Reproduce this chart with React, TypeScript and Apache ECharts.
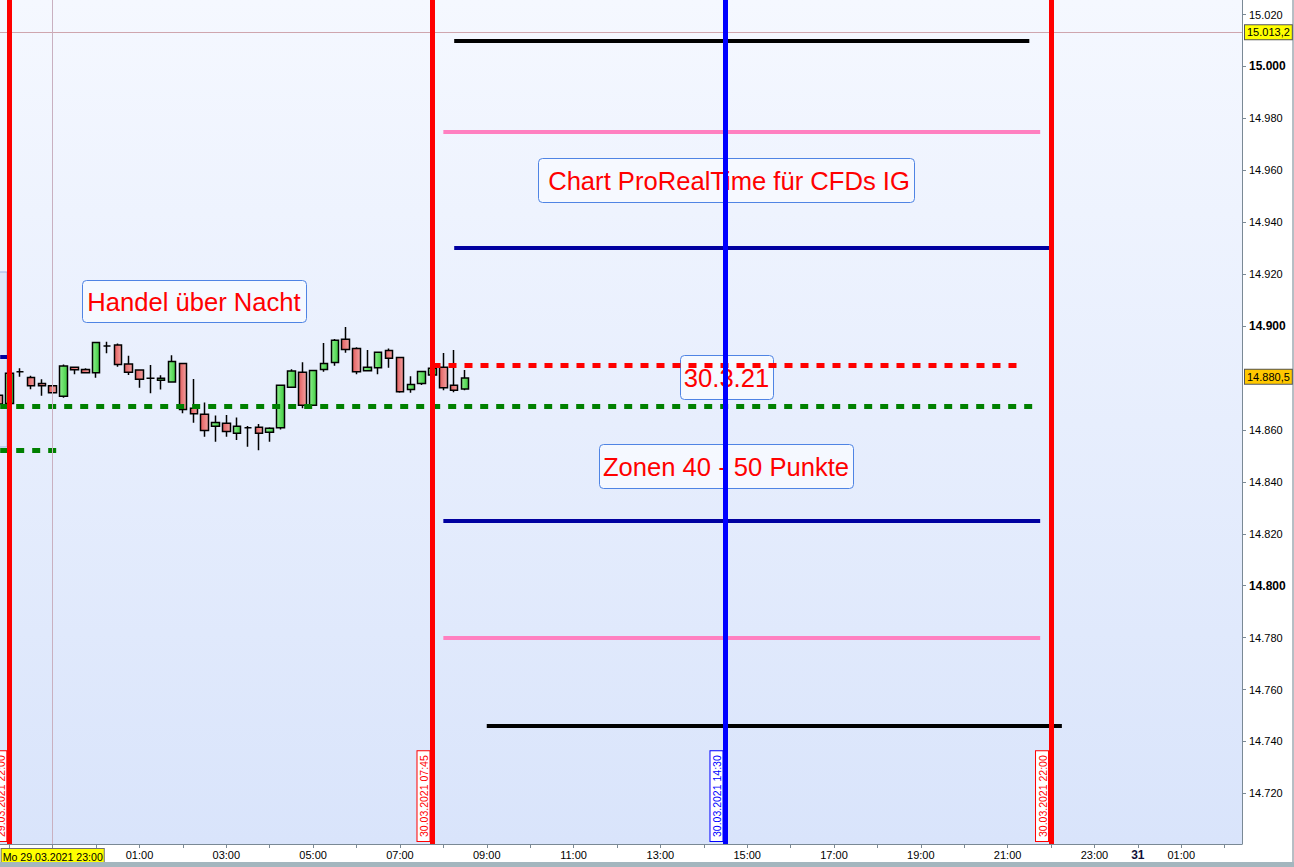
import React, { useEffect, useRef } from 'react';
import * as echarts from 'echarts';

// ---- data ----
const slotTimes = ['21:45', '22:00', '22:15', '22:30', '22:45', '23:00', '23:15', '23:30', '23:45', '00:00', '00:15', '00:30', '00:45', '01:00', '01:15', '01:30', '01:45', '02:00', '02:15', '02:30', '02:45', '03:00', '03:15', '03:30', '03:45', '04:00', '04:15', '04:30', '04:45', '05:00', '05:15', '05:30', '05:45', '06:00', '06:15', '06:30', '06:45', '07:00', '07:15', '07:30', '07:45', '08:00', '08:15', '08:30'];
const opens = [14873.4, 14870.2, 14882.4, 14880.2, 14877.9, 14877.0, 14873.0, 14884.1, 14883.3, 14882.0, 14892.3, 14892.7, 14885.4, 14883.1, 14879.9, 14879.1, 14878.5, 14885.6, 14868.3, 14866.0, 14861.4, 14862.6, 14858.7, 14860.8, 14861.0, 14859.1, 14860.8, 14876.4, 14882.2, 14869.5, 14883.3, 14886.0, 14894.9, 14891.4, 14882.8, 14883.9, 14890.6, 14887.9, 14875.6, 14877.9, 14881.2, 14884.1, 14877.2, 14875.8];
const closes = [14870.0, 14881.8, 14882.4, 14877.0, 14877.0, 14874.3, 14884.6, 14883.2, 14882.0, 14893.7, 14892.3, 14885.2, 14882.2, 14879.5, 14879.9, 14879.9, 14886.4, 14867.9, 14866.2, 14859.8, 14862.9, 14859.4, 14861.4, 14860.8, 14858.7, 14860.6, 14877.2, 14882.7, 14869.5, 14882.9, 14885.6, 14894.5, 14891.0, 14882.4, 14884.1, 14889.9, 14887.6, 14874.7, 14877.5, 14882.5, 14883.8, 14876.2, 14875.3, 14880.0];
const lows = [14869.0, 14870.0, 14880.5, 14875.7, 14873.2, 14874.0, 14872.4, 14881.4, 14881.7, 14880.1, 14889.5, 14884.3, 14881.2, 14876.2, 14874.1, 14875.6, 14878.2, 14866.4, 14862.8, 14857.4, 14855.4, 14857.4, 14856.1, 14853.5, 14852.2, 14855.4, 14860.2, 14876.2, 14868.3, 14869.2, 14882.4, 14884.7, 14889.7, 14881.4, 14882.8, 14881.4, 14883.9, 14874.3, 14874.3, 14877.3, 14881.0, 14875.3, 14874.5, 14875.3];
const highs = [14874.5, 14882.0, 14883.8, 14880.9, 14879.5, 14877.3, 14885.2, 14884.3, 14883.8, 14894.0, 14894.0, 14893.3, 14888.6, 14883.3, 14885.0, 14881.1, 14888.8, 14885.8, 14879.6, 14870.6, 14865.6, 14865.7, 14864.8, 14861.5, 14862.3, 14861.0, 14877.3, 14883.4, 14886.1, 14883.2, 14893.5, 14895.0, 14899.6, 14891.8, 14890.8, 14890.2, 14891.4, 14888.2, 14880.7, 14882.8, 14884.2, 14889.6, 14890.8, 14883.1];

// horizontal zone levels (hours since 29.03.2021 22:00)
const levelKinds = ['black', 'pink', 'navy', 'redDash', 'greenDash', 'greenDash', 'navy', 'pink', 'black', 'navy'];
const levelValues = [15010, 14975, 14930, 14885, 14869, 14852, 14825, 14780, 14746, 14888];
const levelStarts = [10.25, 10.0, 10.25, 9.75, -0.21, -0.21, 10.0, 10.0, 11.0, -0.21];
const levelEnds = [23.5, 23.75, 24.0, 23.25, 23.7, 1.25, 23.75, 23.75, 24.25, 0];

// vertical time markers
const markerHours = [0, 9.75, 16.5, 24];
const markerLabels = ['29.03.2021 22:00', '30.03.2021 07:45', '30.03.2021 14:30', '30.03.2021 22:00'];
const markerKinds = ['red', 'red', 'blue', 'red'];

const crosshairHour = 1;
const crosshairPrice = 15013.2;
const lastPrice = 14880.5;

const yTickValues = [14720, 14740, 14760, 14780, 14800, 14820, 14840, 14860, 14900, 14920, 14940, 14960, 14980, 15000, 15020];
const xTickHours = [0, 1, 2, 3, 4, 5, 6, 7, 8, 9, 10, 11, 12, 13, 14, 15, 16, 17, 18, 19, 20, 21, 22, 23, 24, 25, 26, 27, 28];
const xLabelHours = [1, 3, 5, 7, 9, 11, 13, 15, 17, 19, 21, 23, 25, 26, 27];
const firstLabel = 'Mo 29.03.2021 23:00';
const dayLabel = '31';

const notes = ['Handel über Nacht', 'Chart ProRealTime für CFDs IG', '30.3.21', 'Zonen 40 - 50 Punkte'];

// ---- styles ----
const levelStyle: Record<string, any> = {
  black: { color: '#000000', width: 4, type: 'solid' },
  pink: { color: '#ff80c0', width: 4, type: 'solid' },
  navy: { color: '#0000a0', width: 4, type: 'solid' },
  redDash: { color: '#ff0000', width: 5, type: [8, 8] },
  greenDash: { color: '#008000', width: 5, type: [8, 8] },
};
const markerColor: Record<string, string> = { red: '#ff0000', blue: '#0000ff' };
const noteBoxes = [
  { x: 82, y: 280, w: 224, h: 42, dx: 0 },
  { x: 538, y: 158, w: 376, h: 44, dx: 3 },
  { x: 680, y: 355, w: 93, h: 44, dx: 0 },
  { x: 599, y: 444, w: 254, h: 44, dx: 0 },
];

const FONT = '"Liberation Sans", Arial, sans-serif';

function toHours(s: string): number {
  const [h, m] = s.split(':').map(Number);
  let v = h + m / 60 - 22;
  if (v < -2) v += 24;
  return v;
}

export default function App() {
  const ref = useRef<HTMLDivElement>(null);
  useEffect(() => {
    if (!ref.current) return;
    const chart = echarts.init(ref.current, undefined, { renderer: 'svg' });

    const candleData = slotTimes.map((t, i) => [toHours(t), opens[i], closes[i], lows[i], highs[i]]);

    const markData: any[] = [];
    levelValues.forEach((v, i) => {
      const st = levelStyle[levelKinds[i]];
      markData.push([
        { coord: [levelStarts[i], v], lineStyle: { ...st }, label: { show: false } },
        { coord: [levelEnds[i], v] },
      ]);
    });
    markData.push({
      yAxis: crosshairPrice,
      lineStyle: { color: '#cfa6ae', width: 1, type: 'solid' },
      label: {
        show: true, position: 'end', distance: 3,
        formatter: '15.013,2', color: '#000', fontSize: 11, fontFamily: FONT,
        backgroundColor: '#ffff00', borderColor: '#555', borderWidth: 1, padding: [2, 2, 1, 2],
      },
    });
    markData.push({
      yAxis: lastPrice,
      lineStyle: { color: 'rgba(0,0,0,0)', width: 0 },
      label: {
        show: true, position: 'end', distance: 3,
        formatter: '14.880,5', color: '#000', fontSize: 11, fontFamily: FONT,
        backgroundColor: '#ffc800', borderColor: '#555', borderWidth: 1, padding: [2, 2, 1, 2],
      },
    });
    markData.push({
      xAxis: crosshairHour,
      lineStyle: { color: '#c9b0c0', width: 1, type: 'solid' },
      label: { show: false },
    });
    markerHours.forEach((h, i) => {
      const c = markerColor[markerKinds[i]];
      markData.push({
        xAxis: h,
        lineStyle: { color: c, width: 5, type: 'solid' },
        label: {
          show: true, position: 'insideStartTop', distance: 3,
          formatter: markerLabels[i], color: c, fontSize: 10.5, fontFamily: FONT,
          backgroundColor: '#ffffff', borderColor: c, borderWidth: 1, padding: [1, 4, 0, 4],
        },
      });
    });

    const graphics: any[] = [
      {
        type: 'rect', z: 1, silent: true,
        shape: { x: -20, y: 272, width: 27, height: 175 },
        style: { fill: '#dfe7fa', stroke: '#9db3e4', lineWidth: 1 },
      },
      {
        type: 'rect', z: 1, silent: true,
        shape: { x: 0, y: 862, width: 1294, height: 5 },
        style: { fill: '#a3b6be' },
      },
      {
        type: 'line', z: 1, silent: true,
        shape: { x1: 1293, y1: 0, x2: 1293, y2: 862 },
        style: { stroke: '#6f7f8a', lineWidth: 1 },
      },
    ];
    notes.forEach((txt, i) => {
      const b = noteBoxes[i];
      graphics.push({
        type: 'rect', z: 1, silent: true,
        shape: { x: b.x + 0.5, y: b.y + 0.5, width: b.w, height: b.h, r: 4 },
        style: { fill: 'rgba(246,249,255,0.95)', stroke: '#4f84e4', lineWidth: 1 },
      });
      graphics.push({
        type: 'text', z: 1, silent: true,
        x: b.x + b.w / 2 + b.dx, y: b.y + b.h / 2 + 1,
        style: { text: txt, fill: '#ff0000', font: '25.6px ' + FONT, align: 'center', verticalAlign: 'middle' },
      });
    });

    chart.setOption({
      animation: false,
      backgroundColor: '#ffffff',
      textStyle: { fontFamily: FONT },
      grid: {
        left: 0, right: 52, top: 0, bottom: 23, show: true, borderWidth: 0,
        outerBoundsMode: 'none', containLabel: false,
        backgroundColor: new echarts.graphic.LinearGradient(0, 0, 0, 1, [
          { offset: 0, color: '#f5f8ff' },
          { offset: 1, color: '#d9e4fb' },
        ]),
      },
      xAxis: {
        type: 'value', min: -0.2143, max: 28.4, position: 'bottom',
        axisLine: { show: true, onZero: false, lineStyle: { color: '#7a8995', width: 1 } },
        axisTick: { show: true, customValues: xTickHours, length: 4, lineStyle: { color: '#7a8995' } },
        splitLine: { show: false },
        axisLabel: {
          customValues: xLabelHours, margin: 5, color: '#000', fontSize: 11, fontFamily: FONT,
          hideOverlap: false,
          formatter: (v: number) => {
            if (Math.abs(v - 1) < 1e-6) return '{d|' + firstLabel + '}';
            if (Math.abs(v - 26) < 1e-6) return '{b|' + dayLabel + '}';
            const h = (22 + Math.round(v)) % 24;
            return (h < 10 ? '0' : '') + h + ':00';
          },
          rich: {
            d: { backgroundColor: '#ffff00', borderColor: '#707070', borderWidth: 1, padding: [2, 1, 1, 1], color: '#000', fontSize: 10.6, fontFamily: FONT },
            b: { fontWeight: 'bold', fontSize: 12, color: '#10103a', fontFamily: FONT },
          },
        },
      },
      yAxis: {
        type: 'value', position: 'right', min: 14700.5, max: 15025.6, scale: true,
        axisLine: { show: true, onZero: false, lineStyle: { color: '#7a8995', width: 1 } },
        axisTick: { show: true, customValues: yTickValues, length: 4, lineStyle: { color: '#7a8995' } },
        splitLine: { show: false },
        axisLabel: {
          customValues: yTickValues, margin: 7, color: '#000', fontSize: 11, fontFamily: FONT,
          formatter: (v: number) => {
            const s = (v / 1000).toFixed(3);
            return Math.round(v) % 100 === 0 ? '{b|' + s + '}' : s;
          },
          rich: { b: { fontWeight: 'bold', fontSize: 12, color: '#000', fontFamily: FONT } },
        },
      },
      series: [
        {
          type: 'candlestick',
          clip: false,
          barWidth: 8,
          encode: { x: 0, y: [1, 2, 3, 4] },
          data: candleData,
          itemStyle: {
            color: new echarts.graphic.LinearGradient(0, 0, 1, 0, [
              { offset: 0, color: '#8ef08e' },
              { offset: 1, color: '#3fcc3f' },
            ]),
            color0: new echarts.graphic.LinearGradient(0, 0, 1, 0, [
              { offset: 0, color: '#e25e5e' },
              { offset: 1, color: '#f4a2a2' },
            ]),
            borderColor: '#000', borderColor0: '#000', borderColorDoji: '#000', borderWidth: 1.5,
          },
          markLine: {
            silent: true, symbol: ['none', 'none'], animation: false,
            label: { show: false },
            data: markData,
          },
        },
      ],
      graphic: graphics,
    });

    return () => chart.dispose();
  }, []);

  return (
    <div
      ref={ref}
      style={{ position: 'fixed', left: 0, top: 0, width: 1294, height: 867, background: '#fff' }}
    />
  );
}
